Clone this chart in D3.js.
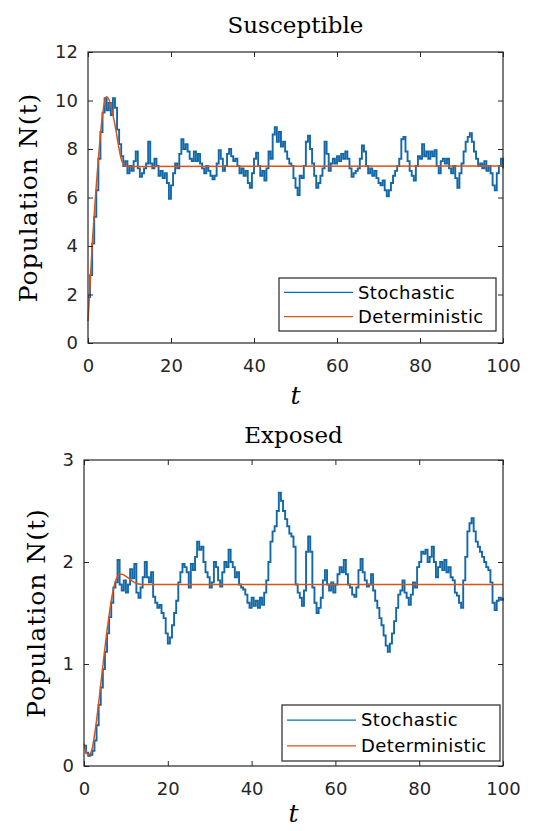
<!DOCTYPE html>
<html>
<head>
<meta charset="utf-8">
<script src="https://cdn.jsdelivr.net/npm/d3@7"></script>
<style>
  body { margin: 0; background: #fff; }
  svg { display: block; }
  .tick text { font-family: "DejaVu Sans", sans-serif; font-size: 18px; fill: #262626; }
  .tick line { stroke: #262626; }
</style>
</head>
<body>
<svg id="chart"></svg>
<script>
// time grid of the simulated path (every half unit)
const tStoch = d3.range(0, 100.5, 0.5);

// Susceptible, stochastic path
const stochS = [
  1.9, 2.8, 4.1, 5.2, 6.3, 7.6, 8.7, 9.5, 10.1, 9.6,
  9.9, 9.4, 10.1, 9.7, 8.8, 8.2, 7.7, 7.3, 7.5, 7.0,
  7.3, 7.1, 7.5, 7.9, 7.2, 6.85, 7.0, 7.2, 7.4, 8.3,
  7.4, 7.2, 7.6, 7.3, 6.9, 7.1, 6.8, 7.0, 6.6, 5.95,
  6.5, 7.0, 7.4, 7.2, 7.8, 8.4, 8.0, 8.2, 7.9, 7.6,
  7.5, 7.9, 7.5, 7.8, 7.4, 7.2, 7.0, 7.3, 7.1, 6.9,
  6.75, 6.9, 7.4, 7.95, 7.6, 7.1, 7.3, 7.8, 8.0, 7.7,
  7.5, 7.6, 7.3, 7.0, 7.2, 6.9, 7.1, 6.6, 6.4, 7.0,
  7.6, 7.85, 7.3, 6.9, 7.1, 6.7, 7.2, 7.9, 7.6, 8.6,
  8.9, 8.3, 8.7, 8.1, 8.3, 7.9, 7.6, 7.4, 7.3, 6.8,
  6.4, 6.1, 6.9, 6.8, 7.3, 8.3, 8.55, 8.0, 7.4, 6.9,
  6.4, 6.6, 6.9, 7.2, 8.3, 7.8, 7.1, 7.4, 7.6, 7.4,
  7.7, 7.5, 7.8, 7.6, 7.9, 7.6, 7.2, 6.85, 7.0, 7.1,
  7.2, 7.6, 8.15, 7.9, 7.3, 7.0, 7.2, 6.9, 7.1, 6.8,
  6.6, 6.5, 6.7, 6.3, 6.05, 6.3, 6.6, 6.9, 7.1, 7.3,
  7.6, 8.4, 8.5, 7.9, 7.5, 7.1, 6.9, 6.7, 7.3, 7.7,
  7.6, 8.2, 7.7, 7.9, 7.6, 7.9, 7.7, 7.95, 7.3, 7.0,
  7.5, 7.6, 7.4, 7.6, 7.2, 7.0, 7.3, 6.8, 6.4, 7.0,
  7.4, 7.9, 8.3, 8.5, 8.65, 8.3, 7.9, 7.6, 7.3, 7.4,
  7.2, 7.5, 7.1, 7.3, 7.0, 6.5, 6.3, 7.0, 7.3, 7.6,
  7.2
];

// Susceptible, deterministic solution
const tDetS = [0, 0.5, 1, 1.5, 2, 2.5, 3, 3.5, 4, 4.5, 5, 5.5, 6, 6.5, 7, 7.5, 8, 8.5, 9, 10, 100];
const detS = [0.9, 2.4, 4.0, 5.3, 6.5, 7.6, 8.6, 9.4, 9.95, 10.15, 10.05, 9.8, 9.4, 9.0, 8.5, 8.0, 7.6, 7.4, 7.3, 7.28, 7.3];

// Exposed, stochastic path
const stochE = [
  0.2, 0.13, 0.1, 0.11, 0.15, 0.25, 0.4, 0.6, 0.77, 0.95,
  1.12, 1.3, 1.46, 1.6, 1.75, 1.8, 2.02, 1.78, 1.72, 1.82,
  1.7, 1.78, 1.93, 1.84, 1.98, 1.7, 1.65, 1.75, 1.85, 2.0,
  1.85, 1.8, 1.9, 1.66, 1.6, 1.55, 1.58, 1.5, 1.45, 1.3,
  1.2, 1.26, 1.38, 1.5, 1.62, 1.8, 1.9, 1.98, 1.95, 1.9,
  1.75, 1.98, 1.92, 2.05, 2.2, 2.12, 2.15, 2.0, 1.9, 1.85,
  1.75, 1.8, 2.0, 1.95, 1.82, 1.76, 1.9, 2.0, 1.95, 2.12,
  2.0, 1.95, 1.85, 1.9, 1.78, 1.75, 1.73, 1.68, 1.6, 1.55,
  1.65, 1.57, 1.62, 1.55, 1.65, 1.58, 1.7, 1.82, 2.0, 2.2,
  2.3, 2.35, 2.5, 2.68, 2.6, 2.5, 2.42, 2.35, 2.28, 2.25,
  2.15, 1.78, 1.7, 1.65, 1.57, 1.72, 2.1, 2.25, 2.1, 1.75,
  1.6, 1.5, 1.55, 1.65, 1.82, 1.92, 1.78, 1.72, 1.8, 1.7,
  1.78, 1.88, 1.95, 1.9, 2.02, 1.88, 1.78, 1.75, 1.68, 1.66,
  1.75, 1.92, 2.03, 1.9, 1.82, 1.76, 1.78, 1.88, 1.72, 1.62,
  1.55, 1.45, 1.38, 1.28, 1.18, 1.12, 1.2, 1.3, 1.42, 1.55,
  1.68, 1.72, 1.82, 1.7, 1.65, 1.58, 1.68, 1.8, 1.75, 1.95,
  2.0, 2.1, 2.08, 2.12, 2.0, 2.05, 2.15, 2.0, 1.85, 1.95,
  2.0, 1.92, 2.02, 1.9, 1.95, 1.85, 1.82, 1.7, 1.67, 1.6,
  1.55, 1.82, 2.05, 2.3, 2.38, 2.43, 2.3, 2.2, 2.15, 2.1,
  2.05, 2.0, 1.95, 1.92, 1.8, 1.6, 1.53, 1.62, 1.65, 1.63,
  1.65
];

// Exposed, deterministic solution
const tDetE = [0, 0.5, 1, 1.5, 2, 2.5, 3, 3.5, 4, 4.5, 5, 5.5, 6, 6.5, 7, 7.5, 8, 8.5, 9, 10, 11, 12, 13, 14, 100];
const detE = [0.22, 0.14, 0.11, 0.12, 0.18, 0.3, 0.45, 0.62, 0.8, 0.98, 1.16, 1.33, 1.48, 1.62, 1.73, 1.81, 1.86, 1.88, 1.88, 1.86, 1.83, 1.8, 1.785, 1.78, 1.78];

const seriesNames = ["Stochastic", "Deterministic"];
const xTicks = [0, 20, 40, 60, 80, 100];

const W = 534, H = 831;
const blue = "#0072BD", orange = "#D95319", ink = "#262626";

const svg = d3.select("#chart").attr("width", W).attr("height", H);
svg.append("rect").attr("width", W).attr("height", H).attr("fill", "#fff");

function panel(cfg) {
  const x = d3.scaleLinear().domain([0, 100]).range([cfg.left, cfg.right]);
  const y = d3.scaleLinear().domain([0, cfg.yMax]).range([cfg.bottom, cfg.top]);
  const g = svg.append("g");

  // lines (stochastic first, deterministic on top like MATLAB)
  const stochLine = d3.line()
    .x((d, i) => x(tStoch[i]))
    .y(d => y(d))
    .curve(d3.curveStepAfter);
  g.append("path")
    .datum(cfg.stoch)
    .attr("d", stochLine)
    .attr("fill", "none")
    .attr("stroke", "#1268a8")
    .attr("stroke-width", 1.9);

  const detLine = d3.line()
    .x((d, i) => x(cfg.tDet[i]))
    .y(d => y(d))
    .curve(d3.curveMonotoneX);
  g.append("path")
    .datum(cfg.det)
    .attr("d", detLine)
    .attr("fill", "none")
    .attr("stroke", orange)
    .attr("stroke-width", 1.5);

  // axes with inward ticks
  const xb = g.append("g").attr("transform", `translate(0,${cfg.bottom})`)
    .call(d3.axisBottom(x).tickValues(xTicks).tickSizeInner(-5).tickSizeOuter(0).tickPadding(16));
  const xt = g.append("g").attr("transform", `translate(0,${cfg.top})`)
    .call(d3.axisTop(x).tickValues(xTicks).tickSizeInner(-5).tickSizeOuter(0).tickFormat(""));
  const yl = g.append("g").attr("transform", `translate(${cfg.left},0)`)
    .call(d3.axisLeft(y).tickValues(cfg.yTicks).tickFormat(d3.format("d"))
      .tickSizeInner(-5).tickSizeOuter(0).tickPadding(10));
  const yr = g.append("g").attr("transform", `translate(${cfg.right},0)`)
    .call(d3.axisRight(y).tickValues(cfg.yTicks).tickSizeInner(-5).tickSizeOuter(0).tickFormat(""));
  [xb, xt, yl, yr].forEach(a => a.select(".domain").remove());

  g.append("rect")
    .attr("x", cfg.left).attr("y", cfg.top)
    .attr("width", cfg.right - cfg.left).attr("height", cfg.bottom - cfg.top)
    .attr("fill", "none").attr("stroke", ink).attr("stroke-width", 1.2);

  // title, x label, y label
  const cx = (cfg.left + cfg.right) / 2;
  g.append("text")
    .attr("x", cx).attr("y", cfg.titleY)
    .attr("text-anchor", "middle")
    .attr("font-family", "DejaVu Serif, serif")
    .attr("font-size", 23)
    .attr("fill", "#000")
    .text(cfg.title);
  g.append("text")
    .attr("x", cx).attr("y", cfg.xLabelY)
    .attr("text-anchor", "middle")
    .attr("font-family", "DejaVu Serif, serif")
    .attr("font-style", "italic")
    .attr("font-size", 25)
    .attr("fill", "#000")
    .text("t");
  g.append("text")
    .attr("transform", `translate(${cfg.yLabelX},${(cfg.top + cfg.bottom) / 2}) rotate(-90)`)
    .attr("text-anchor", "middle")
    .attr("font-family", "DejaVu Serif, serif")
    .attr("font-size", 25)
    .attr("letter-spacing", 1)
    .attr("fill", "#000")
    .text("Population N(t)");

  // legend
  const lg = g.append("g").attr("transform", `translate(${cfg.legend[0]},${cfg.legend[1]})`);
  lg.append("rect")
    .attr("width", cfg.legend[2]).attr("height", cfg.legend[3])
    .attr("fill", "#fff").attr("stroke", ink).attr("stroke-width", 1.2);
  const rowY = d3.scalePoint().domain(seriesNames).range([cfg.legend[3] * 0.27, cfg.legend[3] * 0.73]);
  seriesNames.forEach((name, i) => {
    lg.append("line")
      .attr("x1", 5).attr("x2", 74)
      .attr("y1", rowY(name)).attr("y2", rowY(name))
      .attr("stroke", i === 0 ? blue : orange).attr("stroke-width", 1.2);
    lg.append("text")
      .attr("x", 79).attr("y", rowY(name))
      .attr("dy", "0.35em")
      .attr("font-family", "DejaVu Sans, sans-serif")
      .attr("font-size", 18)
      .attr("letter-spacing", 0.4)
      .attr("fill", "#000")
      .text(name);
  });
}

panel({
  left: 88, right: 503, top: 52, bottom: 343, yMax: 12,
  yTicks: [0, 2, 4, 6, 8, 10, 12],
  stoch: stochS, tDet: tDetS, det: detS,
  title: "Susceptible", titleY: 33, xLabelY: 404, yLabelX: 37,
  legend: [279, 278, 217, 53]
});

panel({
  left: 84, right: 503, top: 460, bottom: 766, yMax: 3,
  yTicks: [0, 1, 2, 3],
  stoch: stochE, tDet: tDetE, det: detE,
  title: "Exposed", titleY: 443, xLabelY: 822, yLabelX: 45,
  legend: [282, 705, 218, 56]
});
</script>
</body>
</html>
